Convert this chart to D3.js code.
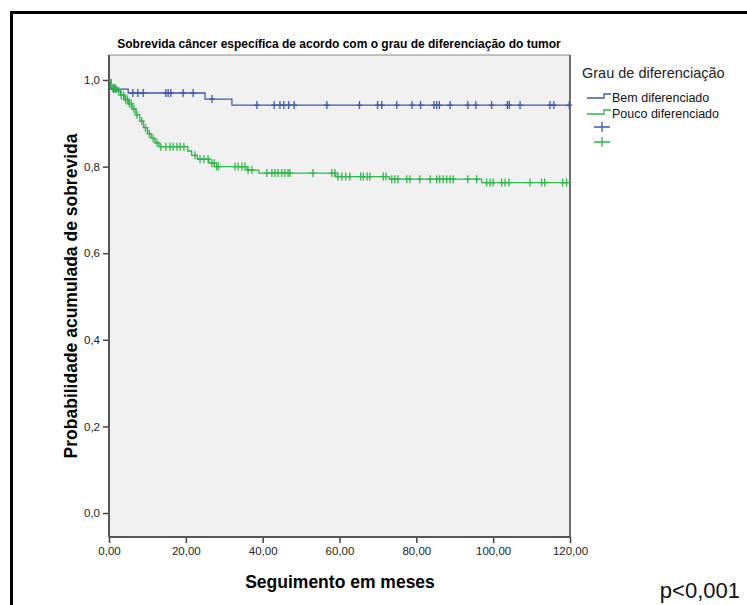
<!DOCTYPE html>
<html><head><meta charset="utf-8">
<script src="https://cdn.jsdelivr.net/npm/d3@7"></script>
<style>body{margin:0;background:#fff}svg{display:block;font-family:"Liberation Sans",Arial,sans-serif}</style>
</head><body><svg id="c" width="747" height="605"></svg>
<script>
// Step survival curves: [time, survival after drop]
const blueSteps = [[0,1.0],[0.5,0.979],[5,0.970],[25,0.956],[32,0.942]];
const greenSteps = [[0,1.0],[0.5,0.982],[2,0.975],[3,0.965],[4,0.955],[5,0.945],[6,0.933],[7,0.92],[8,0.905],[9,0.89],[10,0.876],[11,0.865],[12,0.855],[13,0.846],[20.5,0.836],[21.5,0.826],[23,0.817],[26,0.808],[28,0.80],[36,0.792],[39,0.785],[59,0.777],[73,0.771],[97,0.763]];
const blueCensored = [1.2,1.8,6.2,7.5,8.9,14.8,15.4,16.1,19.3,21.9,26.8,38.5,43,44.5,45.5,46.8,48.2,56.7,65.2,69.9,71.0,74.9,78.9,81.1,84.6,85.3,86.0,88.8,93.4,95.5,99.6,103.7,104.2,107.0,114.8,115.8,119.8];
const greenCensored = [1,1.5,2.5,3.2,3.8,4.3,4.8,5.3,5.8,6.5,7.3,8.5,9.5,10.5,11.5,12.5,13.5,14.8,15.9,16.7,17.7,18.5,19.5,22.4,23.7,24.7,25.8,26.8,27.4,28,28.5,32.8,33.6,34.6,35.4,36.2,37.2,41.1,42.4,43.2,44.0,45.0,45.8,46.6,47.1,53.1,58,58.8,59.6,60.6,61.6,62.7,65.5,66.2,67.2,67.9,71.4,72.1,73.6,74.4,75.2,77.5,78.3,80.9,83.6,85.3,86.1,87,87.9,88.8,89.6,93.4,95.7,98.3,99.2,100,102.2,103.1,104.1,109.6,112.6,113.4,118.1,119.1];
const xTicks = [0,20,40,60,80,100,120];
const yTicks = [0,0.2,0.4,0.6,0.8,1.0];
const seriesNames = ["Bem diferenciado","Pouco diferenciado"];
const colors = ["#3e58ac","#2eb848"];
const tMax = 120;

const svg = d3.select("#c");
const L=109, R=570, T=55, B=537;
const x = d3.scaleLinear().domain([0,120]).range([L,R]);
const y = d3.scaleLinear().domain([0,1]).range([513,80]);

// outer frame
svg.append("rect").attr("x",11.5).attr("y",12.5).attr("width",760).attr("height",700)
  .attr("fill","none").attr("stroke","#000").attr("stroke-width",3);

// plot background
svg.append("rect").attr("x",L).attr("y",T).attr("width",R-L).attr("height",B-T)
  .attr("fill","#f0f0f0").attr("stroke","#888").attr("stroke-width",1);
svg.append("line").attr("x1",R).attr("x2",R).attr("y1",T).attr("y2",B).attr("stroke","#555").attr("stroke-width",1.5);

// title
svg.append("text").attr("x",339).attr("y",48).attr("text-anchor","middle")
  .attr("font-size",12).attr("font-weight","bold").text("Sobrevida câncer específica de acordo com o grau de diferenciação do tumor");

// axes
const fmtX = d => d.toFixed(2).replace(".",",");
const fmtY = d => d.toFixed(1).replace(".",",");
const xAxis = svg.append("g").attr("transform",`translate(0,${B})`)
  .call(d3.axisBottom(x).tickValues(xTicks).tickFormat(fmtX).tickSize(6).tickPadding(4));
const yAxis = svg.append("g").attr("transform",`translate(${L},0)`)
  .call(d3.axisLeft(y).tickValues(yTicks).tickFormat(fmtY).tickSize(6).tickPadding(3));
[xAxis,yAxis].forEach(g=>{
  g.select(".domain").remove();
  g.selectAll(".tick line").attr("stroke","#444").attr("stroke-width",1.5);
  g.selectAll("text").attr("font-size",11.5).attr("fill","#222").attr("font-family","'Liberation Sans',Arial,sans-serif");
});
svg.append("line").attr("x1",L).attr("x2",L).attr("y1",T).attr("y2",B).attr("stroke","#555").attr("stroke-width",2);
svg.append("line").attr("x1",L).attr("x2",R).attr("y1",B).attr("y2",B).attr("stroke","#555").attr("stroke-width",2);

// axis titles
svg.append("text").attr("x",340).attr("y",588).attr("text-anchor","middle")
  .attr("font-size",17.5).attr("font-weight","bold").text("Seguimento em meses");
svg.append("text").attr("transform","translate(77,296) rotate(-90)").attr("text-anchor","middle")
  .attr("font-size",17.5).attr("font-weight","bold").text("Probabilidade acumulada de sobrevida");

// curves
function stepPath(steps){
  const pts=[];
  steps.forEach((s,i)=>{
    if(i>0) pts.push([s[0],steps[i-1][1]]);
    pts.push(s);
  });
  pts.push([tMax,steps[steps.length-1][1]]);
  return d3.line().x(d=>x(d[0])).y(d=>y(d[1]))(pts);
}
function survAt(steps,t){let s=1;steps.forEach(d=>{if(d[0]<=t)s=d[1];});return s;}
const plot = svg.append("g");
[[blueSteps,blueCensored,colors[0]],[greenSteps,greenCensored,colors[1]]].forEach(([st,cs,col])=>{
  plot.append("path").attr("d",stepPath(st)).attr("fill","none").attr("stroke",col).attr("stroke-width",1.3);
  plot.selectAll(null).data(cs).enter().append("path")
    .attr("d",t=>{const px=x(t),py=y(survAt(st,t));return `M${px-3},${py}H${px+3}M${px},${py-4}V${py+4}`;})
    .attr("stroke",col).attr("stroke-width",1.3).attr("fill","none");
});

// legend
svg.append("text").attr("x",582).attr("y",78).attr("font-size",14.5).attr("fill","#222").text("Grau de diferenciação");
seriesNames.forEach((n,i)=>{
  const yy = 98 + i*16;
  svg.append("path").attr("d",`M587,${yy}H604V${yy-4}H611`).attr("fill","none").attr("stroke",colors[i]).attr("stroke-width",1.3);
  svg.append("text").attr("x",612).attr("y",yy+3.5).attr("font-size",12.5).attr("fill","#111").text(n);
});
colors.forEach((c,i)=>{
  const yy = 127 + i*15, cx = 602;
  svg.append("path").attr("d",`M${cx-8},${yy}H${cx+8}M${cx},${yy-5}V${yy+5}`).attr("stroke",c).attr("stroke-width",1.3);
});

// p-value
svg.append("text").attr("x",740).attr("y",598).attr("text-anchor","end").attr("font-size",22).attr("fill","#111").text("p<0,001");
</script></body></html>
